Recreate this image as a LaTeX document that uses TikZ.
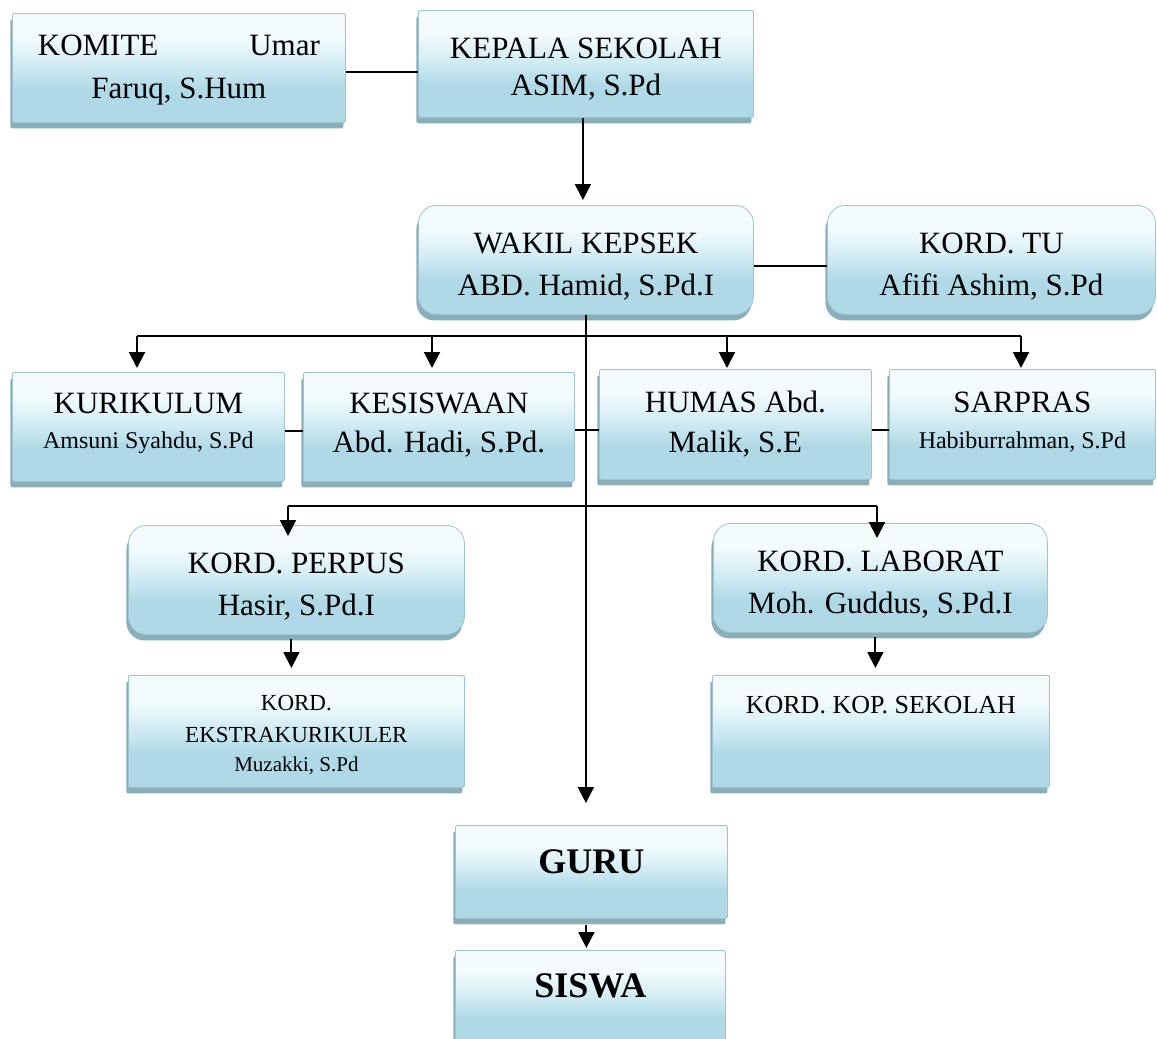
\documentclass[tikz,border=0pt]{standalone}
\usepackage{fontspec}
\setmainfont{Liberation Serif}
\usetikzlibrary{shadows,arrows.meta}
\definecolor{boxtop}{HTML}{F3FBFD}
\definecolor{boxmid}{HTML}{D6EEF5}
\definecolor{boxbot}{HTML}{AFD9E6}
\definecolor{boxline}{HTML}{9EC3CE}
\definecolor{shadowcol}{HTML}{8BAFB9}
\pgfdeclareverticalshading{boxshade}{100bp}{color(0bp)=(boxbot); color(25bp)=(boxbot); color(40bp)=(boxbot); color(53bp)=(boxmid); color(64bp)=(boxtop); color(75bp)=(boxtop); color(100bp)=(boxtop)}
\newcommand\fmain{\fontsize{31}{37}\selectfont}
\newcommand\fsm{\fontsize{24}{30}\selectfont}
\newcommand\fex{\fontsize{23}{31}\selectfont}
\newcommand\fmu{\fontsize{21}{29}\selectfont}
\newcommand\fkop{\fontsize{26}{30}\selectfont}
\newcommand\fbd{\fontsize{36}{42}\selectfont\bfseries}
\begin{document}
\begin{tikzpicture}[x=1pt,y=-1pt,
  box/.style={draw=boxline, line width=0.8pt, shading=boxshade,
    drop shadow={shadow xshift=-2pt, shadow yshift=-6pt, fill=shadowcol, opacity=1},
    align=center, inner sep=0pt, anchor=north west, font=\fmain, rounded corners=1.5pt},
  rbox/.style={box, rounded corners=18pt},
  conn/.style={line width=2pt},
  arr/.style={line width=2pt, -{Triangle[width=16pt,length=16pt]}}]
\useasboundingbox (0,0) rectangle (1157,1039);

% boxes
\node[box, minimum width=333pt, text height=85pt, text depth=24pt] (kom) at (12,13)
  {\makebox[282pt]{KOMITE\hfill Umar}\\[6pt]Faruq, S.Hum};
\node[box, minimum width=335pt, text height=85pt, text depth=22pt] (kep) at (418,10)
  {KEPALA SEKOLAH\\ASIM, S.Pd};
\node[rbox, minimum width=335pt, text height=90pt, text depth=19pt] (wak) at (418,205)
  {WAKIL KEPSEK\\[5pt]ABD. Hamid, S.Pd.I};
\node[rbox, minimum width=328pt, text height=90pt, text depth=19pt] (tu) at (827,205)
  {KORD. TU\\[5pt]Afifi Ashim, S.Pd};
\node[box, minimum width=272pt, text height=76pt, text depth=33pt] (kur) at (12,372)
  {KURIKULUM\\[-2pt]{\fsm Amsuni Syahdu, S.Pd}};
\node[box, minimum width=271pt, text height=80pt, text depth=29pt] (kes) at (303,372)
  {KESISWAAN\\[2pt]Abd. Hadi, S.Pd.};
\node[box, minimum width=272pt, text height=83pt, text depth=27pt] (hum) at (599,369)
  {HUMAS Abd.\\[3pt]Malik, S.E};
\node[box, minimum width=266pt, text height=79pt, text depth=31pt] (sar) at (889,369)
  {SARPRAS\\[-1pt]{\fsm Habiburrahman, S.Pd}};
\node[rbox, minimum width=336pt, text height=90pt, text depth=19pt] (per) at (128,525)
  {KORD. PERPUS\\[5pt]Hasir, S.Pd.I};
\node[rbox, minimum width=334pt, text height=90pt, text depth=19pt] (lab) at (713,523)
  {KORD. LABORAT\\[5pt]Moh. Guddus, S.Pd.I};
\node[box, minimum width=336pt, font=\fex, text height=96pt, text depth=16pt] (eks) at (128,675)
  {KORD.\\[1pt]EKSTRAKURIKULER\\[-2pt]{\fmu Muzakki, S.Pd}};
\node[box, minimum width=337pt, font=\fkop, text height=38pt, text depth=74pt] (kop) at (712,675)
  {KORD. KOP. SEKOLAH};
\node[box, minimum width=272pt, font=\fbd, text height=48pt, text depth=45pt] (guru) at (455,825)
  {GURU};
\node[box, minimum width=270pt, font=\fbd, text height=47pt, text depth=50pt] (sis) at (455,950)
  {SISWA};

% connectors
\draw[conn] ([yshift=-4.5pt]kom.east) -- ([yshift=-4.5pt]kom.east -| kep.west);
\draw[arr, shorten >=5pt] ([xshift=-3pt]kep.south) -- ([xshift=-3pt]kep.south |- wak.north);
\draw[conn] ([yshift=-6.5pt]wak.east) -- ([yshift=-6.5pt]wak.east -| tu.west);
\draw[arr, shorten >=22pt] (wak.south) -- (wak.south |- guru.north);

\coordinate (b1) at (137,336);
\coordinate (b2) at (432,336);
\coordinate (b3) at (727,336);
\coordinate (b4) at (1021,336);
\draw[conn] (b1) -- (b4);
\draw[arr, shorten >=4pt] (b1) -- (b1 |- kur.north);
\draw[arr, shorten >=4pt] (b2) -- (b2 |- kes.north);
\draw[arr, shorten >=1pt] (b3) -- (b3 |- hum.north);
\draw[arr, shorten >=1pt] (b4) -- (b4 |- sar.north);

\draw[conn] ([yshift=-4.5pt]kur.east) -- ([yshift=-4.5pt]kur.east -| kes.west);
\draw[conn] ([yshift=-3.5pt]kes.east) -- ([yshift=-3.5pt]kes.east -| hum.west);
\draw[conn] ([yshift=-6pt]hum.east) -- ([yshift=-6pt]hum.east -| sar.west);

\coordinate (c1) at (288,506);
\coordinate (c2) at (877,506);
\draw[conn] (c1) -- (c2);
\draw[arr, shorten >=-11pt] (c1) -- (c1 |- per.north);
\draw[arr, shorten >=-15pt] (c2) -- (c2 |- lab.north);

\draw[arr, shorten >=7pt, shorten <=4pt] ([xshift=-5pt]per.south) -- ([xshift=-5pt]per.south |- eks.north);
\draw[arr, shorten >=7pt, shorten <=4pt] ([xshift=-5pt]lab.south) -- ([xshift=-5pt]lab.south |- kop.north);
\draw[arr, shorten >=2pt, shorten <=6pt] ([xshift=-5pt]guru.south) -- ([xshift=-5pt]guru.south |- sis.north);
\end{tikzpicture}
\end{document}
